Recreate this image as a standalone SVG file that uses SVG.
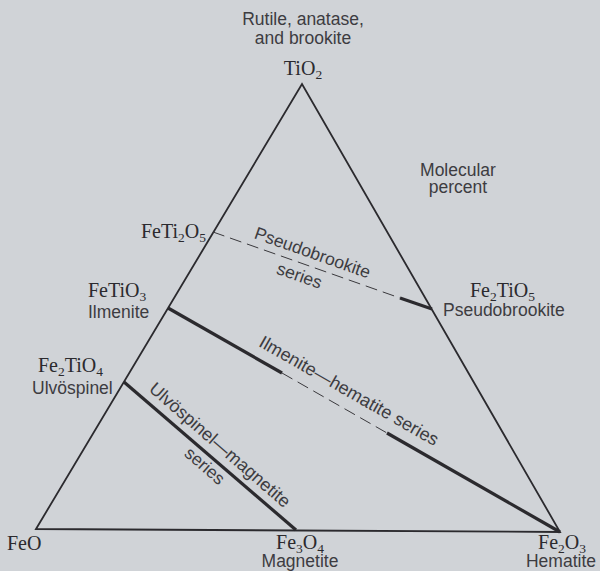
<svg xmlns="http://www.w3.org/2000/svg" width="600" height="571" viewBox="0 0 600 571">
  <style>
    .bg { fill: #d0d3d7; }
    .edge { fill: none; stroke: #2b2a2e; stroke-width: 1.8; stroke-linejoin: miter; }
    .solid { fill: none; stroke: #2b2a2e; stroke-width: 3.2; stroke-linecap: butt; }
    .dash { fill: none; stroke: #3a393d; stroke-width: 1; stroke-dasharray: 12 6; }
    .lbl { font-family: "Liberation Sans", Arial, sans-serif; font-size: 17.5px; fill: #3d3c41; }
    .ser { font-size: 18px; }
    .fml { font-family: "Liberation Serif", "Times New Roman", serif; font-size: 20px; fill: #2b2a2e; }
    .sub { font-size: 13.5px; }
  </style>

  <rect class="bg" x="0" y="0" width="600" height="571"/>

  <!-- Ternary frame: FeO – TiO2 – Fe2O3 -->
  <g id="frame">
    <path class="edge" d="M36,529 L302,84 L560,532 Z"/>
  </g>

  <!-- Solid-solution series lines -->
  <g id="connectors">
    <!-- pseudobrookite series -->
    <line class="dash" x1="213" y1="232" x2="400" y2="298"/>
    <line class="solid" x1="400" y1="298" x2="432" y2="309"/>
    <!-- ilmenite–hematite series -->
    <line class="solid" x1="168" y1="308" x2="282" y2="373"/>
    <line class="dash" x1="282" y1="373" x2="387" y2="433"/>
    <line class="solid" x1="387" y1="433" x2="560" y2="532"/>
    <!-- ulvöspinel–magnetite series -->
    <line class="solid" x1="124" y1="382" x2="296" y2="530"/>
  </g>

  <g id="note-top">
    <text class="lbl" x="303" y="25" text-anchor="middle">Rutile, anatase,</text>
    <text class="lbl" x="303" y="44" text-anchor="middle">and brookite</text>
  </g>

  <g id="node-tio2">
    <text class="fml" x="303" y="75" text-anchor="middle">TiO<tspan class="sub" dy="3.5">2</tspan></text>
  </g>

  <g id="note-molecular">
    <text class="lbl" x="458" y="176" text-anchor="middle">Molecular</text>
    <text class="lbl" x="458" y="193" text-anchor="middle">percent</text>
  </g>

  <g id="node-feti2o5">
    <text class="fml" x="206" y="238" text-anchor="end">FeTi<tspan class="sub" dy="3.5">2</tspan><tspan dy="-3.5">O</tspan><tspan class="sub" dy="3.5">5</tspan></text>
  </g>

  <g id="node-fetio3">
    <text class="fml" x="88" y="297">FeTiO<tspan class="sub" dy="3.5">3</tspan></text>
    <text class="lbl" x="88" y="318">Ilmenite</text>
  </g>

  <g id="node-fe2tio4">
    <text class="fml" x="38" y="372">Fe<tspan class="sub" dy="3.5">2</tspan><tspan dy="-3.5">TiO</tspan><tspan class="sub" dy="3.5">4</tspan></text>
    <text class="lbl" x="32" y="394">Ulvöspinel</text>
  </g>

  <g id="node-fe2tio5">
    <text class="fml" x="470" y="297">Fe<tspan class="sub" dy="3.5">2</tspan><tspan dy="-3.5">TiO</tspan><tspan class="sub" dy="3.5">5</tspan></text>
    <text class="lbl" x="443" y="316">Pseudobrookite</text>
  </g>

  <g id="node-feo">
    <text class="fml" x="7" y="550">FeO</text>
  </g>

  <g id="node-fe3o4">
    <text class="fml" x="300" y="549" text-anchor="middle">Fe<tspan class="sub" dy="3.5">3</tspan><tspan dy="-3.5">O</tspan><tspan class="sub" dy="3.5">4</tspan></text>
    <text class="lbl" x="300" y="567" text-anchor="middle">Magnetite</text>
  </g>

  <g id="node-fe2o3">
    <text class="fml" x="562" y="549" text-anchor="middle">Fe<tspan class="sub" dy="3.5">2</tspan><tspan dy="-3.5">O</tspan><tspan class="sub" dy="3.5">3</tspan></text>
    <text class="lbl" x="561" y="567" text-anchor="middle">Hematite</text>
  </g>

  <!-- Series labels, set along their lines -->
  <g id="series-labels">
    <text class="lbl" text-anchor="middle" transform="translate(310.5,258.3) rotate(19.4)">Pseudobrookite</text>
    <text class="lbl" text-anchor="middle" transform="translate(297.5,281.2) rotate(19.4)">series</text>
    <text class="lbl ser" text-anchor="middle" transform="translate(346,396) rotate(29.7)">Ilmenite—hematite series</text>
    <text class="lbl ser" text-anchor="middle" transform="translate(216,449.5) rotate(40.9)">Ulvöspinel—magnetite</text>
    <text class="lbl" text-anchor="middle" transform="translate(201,470.4) rotate(40.9)">series</text>
  </g>
</svg>
